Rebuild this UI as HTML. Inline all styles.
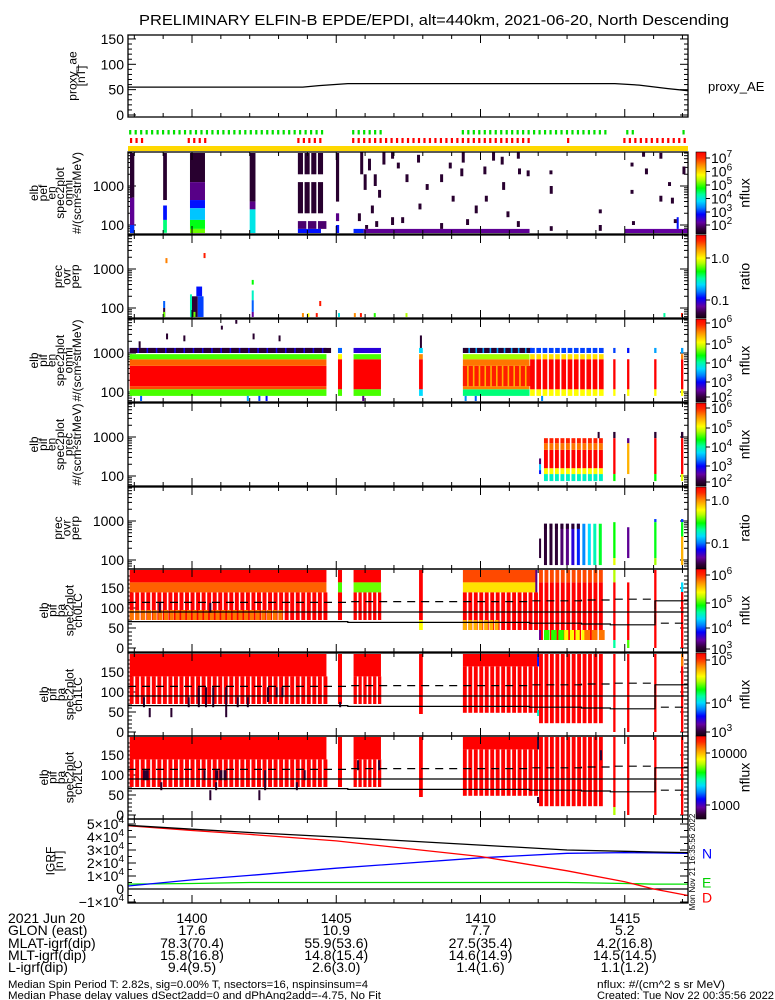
<!DOCTYPE html>
<html><head><meta charset="utf-8">
<style>
html,body{margin:0;padding:0;background:#fff;}
svg{display:block;font-family:"Liberation Sans",sans-serif;}
</style></head>
<body>
<svg id="chart" xmlns="http://www.w3.org/2000/svg" width="775" height="1000" viewBox="0 0 775 1000">
<rect x="0" y="0" width="775" height="1000" fill="#fff"/>
<text x="434" y="25" text-anchor="middle" font-size="15" textLength="590" lengthAdjust="spacingAndGlyphs">PRELIMINARY ELFIN-B EPDE/EPDI, alt=440km, 2021-06-20, North Descending</text>
<g id="layer"></g>
<g font-size="14">
<text x="8" y="923">2021 Jun 20</text>
<text x="8" y="935">GLON (east)</text>
<text x="8" y="948">MLAT-igrf(dip)</text>
<text x="8" y="960">MLT-igrf(dip)</text>
<text x="8" y="972">L-igrf(dip)</text>
</g>
<text x="8" y="988" font-size="11" textLength="360" lengthAdjust="spacingAndGlyphs">Median Spin Period T: 2.82s, sig=0.00% T, nsectors=16, nspinsinsum=4</text>
<text x="8" y="999" font-size="11" textLength="373" lengthAdjust="spacingAndGlyphs">Median Phase delay values dSect2add=0 and dPhAng2add=-4.75, No Fit</text>
<text x="597" y="988" font-size="11" textLength="128" lengthAdjust="spacingAndGlyphs">nflux: #/(cm^2 s sr MeV)</text>
<text x="597" y="999" font-size="11" textLength="177" lengthAdjust="spacingAndGlyphs">Created: Tue Nov 22 00:35:56 2022</text>
</svg>
<script>
// ---------- data ----------
const aeTimes=[1397.78,1403.84,1404.4,1405.4,1414.66,1415.5,1416.5,1417.19];
const aeValues=[55,55,58,62,62,59,52,48];

const igrfTimes=[1397.78,1400,1402,1405,1410,1413,1415,1416,1417.19];
const igrfTotal=[4.9,4.6,4.35,4.0,3.38,3.0,2.9,2.85,2.8];
const igrfD=[4.87,4.5,4.2,3.7,2.5,1.4,0.56,0.0,-0.5];
const igrfN=[0.23,0.7,1.05,1.6,2.4,2.75,2.8,2.78,2.75];
const igrfE=[0.38,0.42,0.5,0.5,0.5,0.5,0.42,0.38,0.38];

const lcTimes=[1397.78,1404.4,1405.4,1409.1,1411.7,1413.5,1414.5,1416.0];
const lcValues=[66,66,64,64,62,60,58,58];
const flipTime=1416.05;
const lcAfterFlip=[[1416.05,62],[1417.19,62]];

const tickMinutes=[1398,1399,1400,1401,1402,1403,1404,1405,1406,1407,1408,1409,1410,1411,1412,1413,1414,1415,1416,1417];
const majorMinutes=[1400,1405,1410,1415];
const majorLabels=['1400','1405','1410','1415'];
const glonValues=['17.6','10.9','7.7','5.2'];
const mlatValues=['78.3(70.4)','55.9(53.6)','27.5(35.4)','4.2(16.8)'];
const mltValues=['15.8(16.8)','14.8(15.4)','14.6(14.9)','14.5(14.5)'];
const lValues=['9.4(9.5)','2.6(3.0)','1.4(1.6)','1.1(1.2)'];

const greenFlags=[[1397.82,1404.66],[1405.55,1406.6],[1409.35,1414.4],[1415.05,1415.3],[1417.0,1417.1]];
const redFlags=[[1397.85,1398.3],[1399.85,1400.55],[1403.65,1404.5],[1405.55,1411.75],[1413.0,1413.1],[1414.95,1417.15]];

const pefCells=[
 [1397.85,1398.0,2.7,3.87,0.04,0],[1397.85,1398.0,2.0,2.7,0.13,0],[1397.85,1398.0,1.77,2.0,0.27,0],
 [1399.0,1399.13,2.64,3.87,0.04,0],[1399.0,1399.13,2.13,2.5,0.25,0],[1399.0,1399.13,1.8,2.13,0.5,0],
 [1399.93,1400.45,3.1,3.87,0.04,0],[1399.93,1400.45,2.64,3.1,0.12,0],[1399.93,1400.45,2.43,2.64,0.25,0],
 [1399.93,1400.45,2.13,2.43,0.38,0],[1399.93,1400.45,1.9,2.13,0.55,0],[1399.93,1400.45,1.77,1.9,0.62,0],
 [1402.0,1402.2,2.6,3.87,0.04,0],[1402.0,1402.2,2.4,2.6,0.12,0],[1402.0,1402.2,1.77,2.4,0.42,0],
 [1403.67,1404.47,3.3,3.87,0.04,4],[1403.67,1404.47,2.3,3.1,0.04,4],[1403.67,1404.47,1.9,2.1,0.1,3],[1403.67,1404.47,1.77,1.9,0.25,0],
 [1404.99,1405.1,2.6,3.87,0.04,0],[1404.99,1405.1,2.1,2.3,0.12,0],[1404.99,1405.1,1.77,2.0,0.25,0],
 [1405.6,1405.95,1.77,1.9,0.26,0],[1405.95,1411.7,1.77,1.9,0.13,0],[1415.0,1417.19,1.77,1.9,0.14,0],
 [1416.8,1416.87,1.9,2.2,0.25,0]
];
const pefScatter=[
 [1405.83,3.3,3.87],[1405.95,2.9,3.3],[1406.1,3.4,3.7],[1406.2,2.3,2.5],[1406.35,1.95,2.1],[1406.3,3.0,3.3],
 [1406.9,2.0,2.2],[1406.9,3.7,3.87],[1407.1,3.45,3.6],[1407.4,3.1,3.3],[1407.8,3.6,3.8],[1407.85,2.4,2.55],
 [1408.6,3.1,3.3],[1408.6,1.9,2.05],[1409.3,3.25,3.45],[1409.35,3.6,3.87],[1409.8,2.3,2.5],[1410.1,3.3,3.5],
 [1410.15,2.6,2.75],[1410.7,3.55,3.75],[1410.75,2.9,3.1],[1411.26,1.95,2.1],[1411.26,3.7,3.87],[1411.3,3.3,3.45],
 [1411.6,3.25,3.4],[1412.39,3.3,3.4],[1412.4,2.8,3.0],[1412.4,1.85,1.97],[1414.1,2.3,2.4],[1414.1,1.85,2.0],
 [1415.2,3.5,3.6],[1415.2,2.8,2.9],[1415.25,2.0,2.1],[1415.6,3.75,3.87],[1415.7,3.3,3.45],[1416.2,3.7,3.85],
 [1416.2,2.6,2.75],[1416.5,3.0,3.1],[1416.6,2.55,2.7],[1416.7,2.05,2.15],[1417.0,3.3,3.5],[1406.6,3.55,3.87],
 [1406.45,2.7,2.9],[1407.25,2.05,2.2],[1408.1,2.9,3.05],[1408.9,3.45,3.6],[1409.5,2.0,2.15],[1410.4,3.65,3.87],
 [1410.9,2.2,2.35],[1409.0,2.6,2.75],[1405.75,2.1,2.3],[1406.0,1.9,2.0]
];
const pefRatioCells=[
 [1399.08,1399.14,3.15,3.28,0.85,0],[1400.4,1400.46,3.28,3.41,0.95,0],
 [1399.0,1399.07,2.0,2.18,0.3,0],[1399.0,1399.07,1.77,2.0,0.05,0],[1399.0,1399.03,1.77,1.9,0.62,0],
 [1399.93,1400.0,1.77,2.35,0.47,0],[1400.0,1400.2,1.77,2.3,0.05,0],[1400.15,1400.35,2.3,2.55,0.25,0],
 [1400.2,1400.4,1.77,2.3,0.28,0],[1400.05,1400.12,1.77,1.9,0.62,0],
 [1402.07,1402.14,2.6,2.72,0.56,0],[1402.07,1402.14,2.2,2.45,0.45,0],[1402.07,1402.14,1.9,2.2,0.3,0],[1402.07,1402.14,1.77,1.9,0.14,0],
 [1403.81,1403.87,1.77,1.87,0.84,0],[1404.0,1404.06,1.77,1.87,0.72,0],[1404.29,1404.35,1.77,1.87,0.96,0],
 [1404.41,1404.47,2.05,2.18,0.96,0],[1405.06,1405.12,1.77,1.87,0.42,0],[1405.61,1405.67,1.77,1.87,0.84,0],
 [1405.82,1405.88,1.77,1.87,0.96,0],[1406.3,1406.36,1.77,1.87,0.58,0],[1407.4,1407.46,1.77,1.87,0.66,0],
 [1416.34,1416.4,1.77,1.87,0.48,0],[1416.95,1417.01,1.77,1.87,0.96,0]
];
const pifCells=[
 [1397.84,1404.66,1.9,2.07,0.6,0],[1397.84,1404.66,2.07,2.15,0.9,0],[1397.84,1404.66,2.15,2.67,1.0,0],
 [1397.84,1404.66,2.67,2.84,0.88,0],[1397.84,1404.66,2.84,2.97,0.6,0],[1397.84,1404.66,3.0,3.13,0.22,0],
 [1397.84,1404.66,3.0,3.13,0.04,22],
 [1405.06,1405.2,1.9,2.07,0.6,0],[1405.06,1405.2,2.07,2.84,1.0,0],[1405.06,1405.2,2.84,2.97,0.72,0],[1405.06,1405.2,3.0,3.13,0.3,0],
 [1405.6,1406.55,1.9,2.07,0.6,0],[1405.6,1406.55,2.07,2.84,1.0,0],[1405.6,1406.55,2.84,2.97,0.6,0],[1405.6,1406.55,3.0,3.13,0.2,0],
 [1407.87,1408.0,1.9,2.07,0.4,0],[1407.87,1408.0,2.07,2.84,1.0,0],[1407.87,1408.0,2.84,2.97,0.84,0],[1407.87,1408.0,3.0,3.13,0.4,0],
 [1409.39,1411.7,1.9,2.07,0.5,0],[1409.39,1411.7,2.07,2.15,0.85,0],[1409.39,1411.7,2.15,2.67,0.8,0],[1409.39,1411.7,2.15,2.67,0.95,12],
 [1409.39,1411.7,2.67,2.84,0.86,0],[1409.39,1411.7,2.84,2.97,0.65,0],[1409.39,1411.7,3.0,3.13,0.35,0],[1409.39,1411.7,3.0,3.13,0.04,10],
 [1411.72,1414.21,1.9,2.07,0.72,12],[1411.72,1414.21,2.07,2.84,1.0,12],[1411.72,1414.21,2.84,2.97,0.75,12],[1411.72,1414.21,3.0,3.13,0.28,12],
 [1414.6,1414.68,1.9,2.07,0.72,0],[1414.6,1414.68,2.07,2.84,1.0,0],[1414.6,1414.68,3.0,3.13,0.28,0],
 [1415.08,1415.16,1.9,2.07,0.72,0],[1415.08,1415.16,2.07,2.84,1.0,0],[1415.08,1415.16,3.0,3.13,0.25,0],
 [1416.02,1416.1,1.9,2.07,0.72,0],[1416.02,1416.1,2.07,2.84,1.0,0],[1416.02,1416.1,3.0,3.13,0.35,0],
 [1416.95,1417.03,1.9,2.07,0.72,0],[1416.95,1417.03,2.07,2.84,1.0,0],[1416.95,1417.03,2.84,2.97,0.85,0],[1416.95,1417.03,3.0,3.13,0.35,0],
 [1398.2,1398.27,1.77,1.9,0.3,0],[1401.9,1401.97,1.77,1.9,0.35,0],[1402.3,1402.37,1.77,1.9,0.28,0],[1402.55,1402.62,1.77,1.9,0.25,0],
 [1398.15,1398.22,3.13,3.3,0.04,0],[1399.1,1399.17,3.35,3.5,0.04,0],[1399.7,1399.77,3.3,3.45,0.04,0],[1401.0,1401.07,3.6,3.7,0.04,0],
 [1401.5,1401.57,3.75,3.87,0.04,0],[1402.1,1402.17,3.35,3.5,0.04,0],[1403.0,1403.07,3.3,3.45,0.04,0],[1405.9,1405.97,1.77,1.9,0.12,0],
 [1407.9,1407.97,3.13,3.45,0.04,0],[1409.45,1409.52,1.77,1.9,0.33,0],[1409.8,1409.87,1.77,1.9,0.3,0],[1412.1,1412.17,1.77,1.9,0.33,0]
];
const pifPrecCells=[
 [1412.03,1412.1,2.3,2.45,0.1,0],[1412.03,1412.1,2.15,2.3,0.38,0],[1412.03,1412.1,2.05,2.15,0.25,0],
 [1412.2,1414.21,1.87,2.05,0.45,11],[1412.2,1414.21,2.05,2.2,0.72,11],[1412.2,1414.21,2.2,2.67,1.0,11],
 [1412.2,1414.21,2.67,2.84,0.86,11],[1412.2,1414.21,2.84,2.97,0.95,11],[1414.06,1414.13,2.97,3.13,0.04,0],
 [1414.6,1414.68,2.97,3.13,0.04,0],[1414.6,1414.68,2.05,2.97,1.0,0],[1414.6,1414.68,1.87,2.05,0.56,0],
 [1415.08,1415.16,2.84,2.97,0.12,0],[1415.08,1415.16,2.05,2.84,0.8,0],
 [1416.02,1416.1,2.97,3.13,0.04,0],[1416.02,1416.1,2.05,2.97,1.0,0],[1416.02,1416.1,1.87,2.05,0.56,0],
 [1416.95,1417.03,2.97,3.13,0.04,0],[1416.95,1417.03,2.05,2.97,1.0,0],[1416.95,1417.03,1.87,2.05,0.7,0]
];
const pifRatioTimes=[1412.2,1412.39,1412.58,1412.77,1412.96,1413.15,1413.34,1413.53,1413.72,1413.91,1414.1];
const pifRatioValues=[0.05,0.05,0.05,0.1,0.12,0.2,0.26,0.33,0.4,0.46,0.54];
const pifRatioCells=[
 [1412.03,1412.1,2.05,2.55,0.05,0],
 [1414.6,1414.68,2.05,2.97,0.56,0],[1414.6,1414.68,1.87,2.05,0.7,0],
 [1415.08,1415.16,2.05,2.84,0.13,0],
 [1416.02,1416.1,2.97,3.05,0.28,0],[1416.02,1416.1,2.05,2.97,0.55,0],[1416.02,1416.1,1.87,2.05,0.65,0],
 [1416.95,1417.03,2.97,3.05,0.28,0],[1416.95,1417.03,2.6,2.97,0.55,0],[1416.95,1417.03,1.87,2.6,0.8,0]
];
const pa0Cells=[
 [1397.84,1404.66,164,200,1.0,0],[1397.84,1404.66,139,164,0.88,0],[1397.84,1404.66,70,139,1.0,36],[1397.84,1403.1,70,95,0.86,27],
 [1398.85,1398.92,88,113,0.04,0],[1400.6,1400.67,88,113,0.04,0],
 [1405.06,1405.2,164,200,1.0,0],[1405.06,1405.2,139,164,0.6,0],[1405.06,1405.2,70,139,1.0,0],
 [1405.6,1406.55,164,200,1.0,0],[1405.6,1406.55,139,164,0.62,0],[1405.6,1406.55,70,139,1.0,6],
 [1407.87,1408.0,70,200,1.0,0],[1407.87,1408.0,45,70,0.72,0],
 [1409.39,1411.96,164,200,0.9,0],[1409.39,1411.96,139,164,0.75,0],[1409.39,1411.96,45,139,1.0,14],[1409.39,1410.6,45,70,0.8,7],
 [1411.9,1411.97,139,200,0.12,0],
 [1412.03,1414.21,20,164,1.0,12],[1412.03,1414.21,164,200,0.9,12],[1412.03,1412.1,20,45,0.14,0],[1412.2,1412.8,20,45,0.58,3],[1412.9,1413.6,20,45,0.72,4],[1413.6,1414.21,20,45,0.86,3],
 [1414.6,1414.68,164,200,0.66,0],[1414.6,1414.68,20,164,1.0,0],[1414.6,1414.68,0,20,0.48,0],
 [1415.08,1415.16,20,164,1.0,0],[1415.08,1415.16,0,20,0.6,0],
 [1416.02,1416.1,0,200,1.0,0],
 [1416.95,1417.03,140,164,0.4,0],[1416.95,1417.03,0,140,1.0,0]
];
const pa1Cells=[
 [1397.84,1404.66,139,200,1.0,0],[1397.84,1404.66,70,139,1.0,36],
 [1398.3,1398.37,62,87,0.04,0],[1398.5,1398.57,37,60,0.04,0],[1399.25,1399.32,37,60,0.04,0],[1399.85,1399.92,62,87,0.04,0],
 [1400.2,1400.27,62,112,0.04,0],[1400.45,1400.52,62,112,0.04,0],[1400.7,1400.77,62,112,0.04,0],[1401.15,1401.22,37,112,0.04,0],
 [1401.55,1401.62,62,87,0.04,0],[1401.9,1401.97,62,87,0.04,0],[1402.6,1402.67,75,112,0.04,0],[1402.9,1402.97,87,112,0.04,0],[1403.1,1403.17,87,112,0.04,0],
 [1405.06,1405.2,70,200,1.0,0],[1405.1,1405.17,62,75,0.04,0],
 [1405.6,1406.55,139,200,1.0,0],[1405.6,1406.55,70,139,1.0,6],
 [1407.87,1408.0,45,200,1.0,0],
 [1409.39,1411.96,164,200,1.0,0],[1409.39,1411.96,48,164,1.0,14],
 [1411.96,1412.03,164,200,0.25,0],[1411.96,1412.03,40,55,0.45,0],
 [1412.03,1414.21,22,200,1.0,12],
 [1414.6,1414.68,0,200,1.0,0],[1415.08,1415.16,0,200,1.0,0],[1416.02,1416.1,0,200,1.0,0],[1416.95,1417.03,0,200,1.0,0],[1416.95,1417.03,164,200,0.85,0]
];
const pa2Cells=[
 [1397.84,1404.66,139,200,1.0,0],[1397.84,1404.66,70,139,1.0,36],
 [1398.3,1398.5,87,112,0.04,2],[1398.9,1398.97,62,82,0.04,0],[1400.4,1400.47,87,112,0.04,0],[1400.6,1400.67,37,62,0.04,0],
 [1400.8,1401.2,87,112,0.04,3],[1400.8,1400.87,62,82,0.04,0],[1402.3,1402.37,37,62,0.04,0],[1402.5,1402.57,62,112,0.04,0],
 [1403.6,1403.67,62,82,0.04,0],[1403.87,1403.94,87,112,0.04,0],
 [1405.06,1405.2,70,200,1.0,0],
 [1405.6,1406.55,139,200,1.0,0],[1405.6,1406.55,70,139,1.0,6],[1405.72,1405.79,112,137,0.04,0],[1406.45,1406.52,112,137,0.04,0],
 [1407.87,1408.0,45,200,1.0,0],
 [1409.39,1411.96,164,200,1.0,0],[1409.39,1411.96,48,164,1.0,14],
 [1411.96,1412.03,164,200,0.04,0],[1411.96,1412.03,30,45,0.04,0],
 [1412.03,1414.21,22,200,1.0,12],[1414.14,1414.21,137,162,0.04,0],
 [1414.6,1414.68,20,200,1.0,0],[1414.6,1414.68,0,20,0.66,0],[1415.08,1415.16,0,200,1.0,0],[1416.02,1416.1,0,200,1.0,0],[1416.95,1417.03,0,200,1.0,0]
];

// ---------- helpers ----------
const NS='http://www.w3.org/2000/svg';
const layer=document.getElementById('layer');
const X0=128, X1=688;
function X(t){return 192+(t-1400)*28.85;}
const cmapStops=[[0,[20,0,20]],[0.06,[50,0,60]],[0.14,[100,0,160]],[0.24,[0,0,255]],[0.32,[0,128,255]],[0.4,[0,220,255]],[0.48,[0,255,160]],[0.56,[0,255,0]],[0.66,[180,255,0]],[0.72,[255,255,0]],[0.84,[255,140,0]],[0.93,[255,40,0]],[1,[255,0,0]]];
function cmap(v){
 v=Math.max(0,Math.min(1,v));
 for(let i=1;i<cmapStops.length;i++){
  if(v<=cmapStops[i][0]){const a=cmapStops[i-1],b=cmapStops[i];const f=(v-a[0])/(b[0]-a[0]);
   return 'rgb('+[0,1,2].map(k=>Math.round(a[1][k]+(b[1][k]-a[1][k])*f)).join(',')+')';}
 }
 return 'rgb(255,0,0)';
}
function mk(tag,attrs,name,parent){
 const el=document.createElementNS(NS,tag);
 for(const k in attrs) el.setAttribute(k,attrs[k]);
 
 
 (parent||layer).appendChild(el);
 return el;
}
function txt(x,y,s,size,anchor,name,extra){
 const el=mk('text',Object.assign({x:x,y:y,'font-size':size,'text-anchor':anchor||'start'},extra||{}),name);
 el.textContent=s;return el;
}
function sup(x,y,base,exp,size,anchor,name){
 const el=mk('text',{x:x,y:y,'font-size':size,'text-anchor':anchor||'start'},name);
 el.appendChild(document.createTextNode(base));
 const ts=document.createElementNS(NS,'tspan');
 ts.setAttribute('dy','-6');ts.setAttribute('font-size',Math.round(size*0.68));
 ts.textContent=exp;el.appendChild(ts);return el;
}
const defs=mk('defs',{},'defs');
const grad=mk('linearGradient',{id:'cbar',x1:0,y1:1,x2:0,y2:0},'colorbar-gradient',defs);
cmapStops.forEach(s=>{mk('stop',{offset:s[0],'stop-color':cmap(s[0])},'gradient-stop',grad);});

function panelFrame(top,bot,name){
 mk('rect',{x:X0,y:top,width:X1-X0,height:bot-top,fill:'none',stroke:'#000','stroke-width':1.3},name+'-frame');
 tickMinutes.forEach(m=>{
  const big=majorMinutes.indexOf(m)>=0;const l=big?8:4;const x=X(m);
  mk('line',{x1:x,y1:bot,x2:x,y2:bot-l,stroke:'#000','stroke-width':1},name+'-x-tick');
  mk('line',{x1:x,y1:top,x2:x,y2:top+l,stroke:'#000','stroke-width':1},name+'-x-tick-top');
 });
}
function yTick(y,len,name){
 mk('line',{x1:X0,y1:y,x2:X0+len,y2:y,stroke:'#000','stroke-width':1},name);
 mk('line',{x1:X1,y1:y,x2:X1-len,y2:y,stroke:'#000','stroke-width':1},name);
}
function ylab(lines,top,bot,xLast,name){
 const yc=(top+bot)/2;
 lines.forEach((s,i)=>{
  const x=xLast-(lines.length-1-i)*8.6;
  const el=mk('text',{x:0,y:0,'font-size':12,'text-anchor':'middle','dominant-baseline':'middle',transform:'translate('+x+','+yc+') rotate(-90)'},name+'-line');
  el.textContent=s;
 });
}
function colorbar(top,bot,labels,title,name){
 mk('rect',{x:696,y:top,width:10,height:bot-top,fill:'url(#cbar)',stroke:'#000','stroke-width':0.6},name+'-colorbar');
 labels.forEach(l=>{
  mk('line',{x1:706,y1:l[1],x2:710,y2:l[1],stroke:'#000','stroke-width':1},name+'-colorbar-tick');
  if(l[2]) sup(711,l[1]+5,l[0],l[2],14,'start',name+'-colorbar-label');
  else txt(711,l[1]+5,l[0],13,'start',name+'-colorbar-label');
 });
 const el=mk('text',{x:0,y:0,'font-size':14,'text-anchor':'middle','dominant-baseline':'middle',transform:'translate(746,'+((top+bot)/2)+') rotate(-90)'},name+'-colorbar-title');
 el.textContent=title;
}
function clampY(y,top,bot){return Math.max(top,Math.min(bot,y));}
function drawCells(cells,yf,top,bot,name){
 cells.forEach(c=>{
  const t0=c[0],t1=c[1],n=c[5];
  const ya=clampY(yf(c[3]),top,bot),yb=clampY(yf(c[2]),top,bot);
  if(yb-ya<=0) return;
  const fill=cmap(c[4]);
  if(!n){
   const x=X(t0),w=Math.max(2,X(t1)-X(t0));
   mk('rect',{x:x,y:ya,width:w,height:yb-ya,fill:fill},name);
  } else {
   const step=(X(t1)-X(t0)-3)/Math.max(1,n-1);
   const w=Math.max(3,step-1.6);
   for(let i=0;i<n;i++){
    mk('rect',{x:X(t0)+i*step,y:ya,width:w,height:yb-ya,fill:fill},name);
   }
  }
 });
}
function logPanel(top,bot,name){
 const yf=le=>top+73-(le-2)*39;
 for(let d=1;d<=3;d++) for(let k=1;k<=9;k++){
  const le=d+Math.log10(k);const y=yf(le);
  if(y>top+1&&y<bot-1) yTick(y,k===1?8:4,name+'-y-tick');
 }
 txt(124,top+73+5,'100',14,'end',name+'-y-label');
 txt(124,top+34+5,'1000',14,'end',name+'-y-label');
 return yf;
}
function paPanel(top,bot,name){
 const yf=pa=>top+79-pa*0.4;
 for(let p=0;p<=180;p+=10){const y=yf(p);if(y>top+1&&y<bot-1) yTick(y,p%50===0?8:4,name+'-y-tick');}
 [0,50,100,150].forEach(p=>txt(124,yf(p)+5,String(p),14,'end',name+'-y-label'));
 return yf;
}
function poly(times,vals,xf,yf,stroke,name,dash){
 const pts=times.map((t,i)=>xf(t).toFixed(1)+','+yf(vals[i]).toFixed(1)).join(' ');
 const a={points:pts,fill:'none',stroke:stroke,'stroke-width':1.3};
 if(dash) a['stroke-dasharray']=dash;
 return mk('polyline',a,name);
}

// ---------- proxy AE ----------
(function(){
 const top=35,bot=117;const yf=v=>115-v*0.507;
 panelFrame(top,bot,'proxy-ae');
 for(let v=0;v<=150;v+=10) yTick(yf(v),v%50===0?8:4,'proxy-ae-y-tick');
 [0,50,100,150].forEach(v=>txt(124,yf(v)+5,String(v),14,'end','proxy-ae-y-label'));
 poly(aeTimes,aeValues,X,yf,'#000','proxy-ae-line');
 ylab(['proxy_ae','[nT]'],top,bot,82,'proxy-ae-y-title');
 txt(708,91,'proxy_AE',13,'start','proxy-ae-legend');
})();

function flagTicks(ranges,y,h,color,name){
 ranges.forEach(r=>{for(let t=r[0];t<=r[1];t+=0.19){mk('rect',{x:X(t),y:y,width:2.2,height:h,fill:color},name);}});
}
flagTicks(greenFlags,130,4.5,'#00e000','fgs-flag-green');
flagTicks(redFlags,138,5,'#ff0000','fgs-flag-red');
mk('rect',{x:X0,y:146,width:X1-X0,height:5,fill:'#ffd800'},'coverage-bar');

const specPanels=[
 {top:152,bot:234,name:'pef-omni',cells:pefCells,lab:['elb','pef','en','spec2plot','omni','#/(scm\u00b2strMeV)'],cb:[['10',158,'7'],['10',171.5,'6'],['10',185,'5'],['10',198.5,'4'],['10',212,'3'],['10',225,'2']],ct:'nflux'},
 {top:235,bot:318,name:'pef-prec-over-perp',cells:pefRatioCells,lab:['prec','ovr','perp'],cb:[['1.0',258],['0.1',300]],ct:'ratio'},
 {top:319,bot:402,name:'pif-omni',cells:pifCells,lab:['elb','pif','en','spec2plot','omni','#/(scm\u00b2strMeV)'],cb:[['10',323,'6'],['10',344,'5'],['10',363,'4'],['10',382,'3'],['10',397,'2']],ct:'nflux'},
 {top:403,bot:486,name:'pif-prec',cells:pifPrecCells,lab:['elb','pif','en','spec2plot','prec','#/(scm\u00b2strMeV)'],cb:[['10',408,'6'],['10',428,'5'],['10',447,'4'],['10',466,'3'],['10',482,'2']],ct:'nflux'},
 {top:487,bot:569,name:'pif-prec-over-perp',cells:pifRatioCells,lab:['prec','ovr','perp'],cb:[['1.0',500],['0.1',543]],ct:'ratio'}
];
specPanels.forEach((p,idx)=>{
 const yf=logPanel(p.top,p.bot,p.name);
 drawCells(p.cells,yf,p.top+1,p.bot-1,p.name+'-cell');
 if(idx===0){
  pefScatter.forEach(s=>{
   mk('rect',{x:X(s[0]),y:yf(s[2]),width:3,height:yf(s[1])-yf(s[2]),fill:cmap(0.04)},'pef-omni-sparse-cell');
  });
 }
 if(idx===4){
  pifRatioTimes.forEach((t,i)=>{
   const v=pifRatioValues[i];
   mk('rect',{x:X(t),y:yf(2.93),width:3,height:yf(1.87)-yf(2.93),fill:cmap(v)},'pif-ratio-column');
   if(i<7) mk('rect',{x:X(t),y:yf(2.93),width:3,height:yf(2.8)-yf(2.93),fill:cmap(0.04)},'pif-ratio-column-top');
  });
 }
 panelFrame(p.top,p.bot,p.name);
 ylab(p.lab,p.top,p.bot,p.lab.length===3?76:78,p.name+'-y-title');
 colorbar(p.top,p.bot,p.cb,p.ct,p.name);
});

const paPanels=[
 {top:569,bot:652,name:'pa-ch0lc',cells:pa0Cells,lab:['elb','pif','pa','spec2plot','ch0LC'],cb:[['10',575,'6'],['10',603,'5'],['10',628,'4'],['10',649,'3']],ct:'nflux'},
 {top:653,bot:736,name:'pa-ch1lc',cells:pa1Cells,lab:['elb','pif','pa','spec2plot','ch1LC'],cb:[['10',660,'5'],['10',703,'4'],['10',732,'3']],ct:'nflux'},
 {top:736,bot:819,name:'pa-ch2lc',cells:pa2Cells,lab:['elb','pif','pa','spec2plot','ch2LC'],cb:[['10000',753],['1000',805]],ct:'nflux'}
];
paPanels.forEach(p=>{
 const yf=paPanel(p.top,p.bot,p.name);
 drawCells(p.cells,yf,p.top+1,p.bot-1,p.name+'-cell');
 mk('line',{x1:X0,y1:yf(90),x2:X1,y2:yf(90),stroke:'#000','stroke-width':1.2},p.name+'-90-line');
 const lt=lcTimes.concat([flipTime]),lv=lcValues.concat([lcValues[lcValues.length-1]]);
 const pts=[];lt.forEach((t,i)=>{if(i>0)pts.push([t,lv[i-1]]);pts.push([t,lv[i]]);});
 mk('polyline',{points:pts.map(q=>X(q[0]).toFixed(1)+','+yf(q[1]).toFixed(1)).join(' ')+' '+X(flipTime)+','+yf(180-lcAfterFlip[0][1])+' '+X(1417.19)+','+yf(180-lcAfterFlip[1][1]),fill:'none',stroke:'#000','stroke-width':1.2},p.name+'-loss-cone-line');
 mk('polyline',{points:pts.map(q=>X(q[0]).toFixed(1)+','+yf(180-q[1]).toFixed(1)).join(' ')+' '+X(flipTime)+','+yf(lcAfterFlip[0][1])+' '+X(1417.19)+','+yf(lcAfterFlip[1][1]),fill:'none',stroke:'#000','stroke-width':1.2,'stroke-dasharray':'8,6'},p.name+'-anti-loss-cone-line');
 panelFrame(p.top,p.bot,p.name);
 ylab(p.lab,p.top,p.bot,79,p.name+'-y-title');
 colorbar(p.top,p.bot,p.cb,p.ct,p.name);
});

(function(){
 const top=819,bot=903;const yf=v=>889-v*13;
 for(let v=-1;v<=5;v+=0.5) yTick(yf(v),(v%1===0)?8:4,'igrf-y-tick');
 [5,4,3,2,1].forEach(v=>sup(124,yf(v)+5,v+'\u00d710','4',14,'end','igrf-y-label'));
 txt(124,yf(0)+5,'0',14,'end','igrf-y-label');
 sup(124,yf(-1)+5,'\u22121\u00d710','4',14,'end','igrf-y-label');
 mk('line',{x1:X0,y1:yf(0),x2:X1,y2:yf(0),stroke:'#000','stroke-width':1.2},'igrf-zero-line');
 poly(igrfTimes,igrfE,X,yf,'#00e000','igrf-e-line');
 poly(igrfTimes,igrfN,X,yf,'#0000ff','igrf-n-line');
 poly(igrfTimes,igrfD,X,yf,'#ff0000','igrf-d-line');
 poly(igrfTimes,igrfTotal,X,yf,'#000','igrf-total-line');
 panelFrame(top,bot,'igrf');
 ylab(['IGRF','[nT]'],top,bot,60,'igrf-y-title');
 txt(702,yf(igrfN[igrfN.length-1])+5,'N',14,'start','igrf-legend-n',{fill:'#0000ff'});
 txt(702,yf(0.5)+5,'E',14,'start','igrf-legend-e',{fill:'#00d000'});
 txt(702,yf(-0.5)+7,'D',14,'start','igrf-legend-d',{fill:'#ff0000'});
 const st=mk('text',{x:0,y:0,'font-size':8,'text-anchor':'middle',transform:'translate(695,862) rotate(-90)'},'timestamp-label');
 st.textContent='Mon Nov 21 16:35:56 2022';
})();

majorMinutes.forEach((m,i)=>{
 const x=X(m);
 txt(x,923,majorLabels[i],14,'middle','time-tick-label');
 txt(x,935,glonValues[i],14,'middle','glon-value');
 txt(x,948,mlatValues[i],14,'middle','mlat-value');
 txt(x,960,mltValues[i],14,'middle','mlt-value');
 txt(x,972,lValues[i],14,'middle','l-value');
});
</script>
</body></html>
